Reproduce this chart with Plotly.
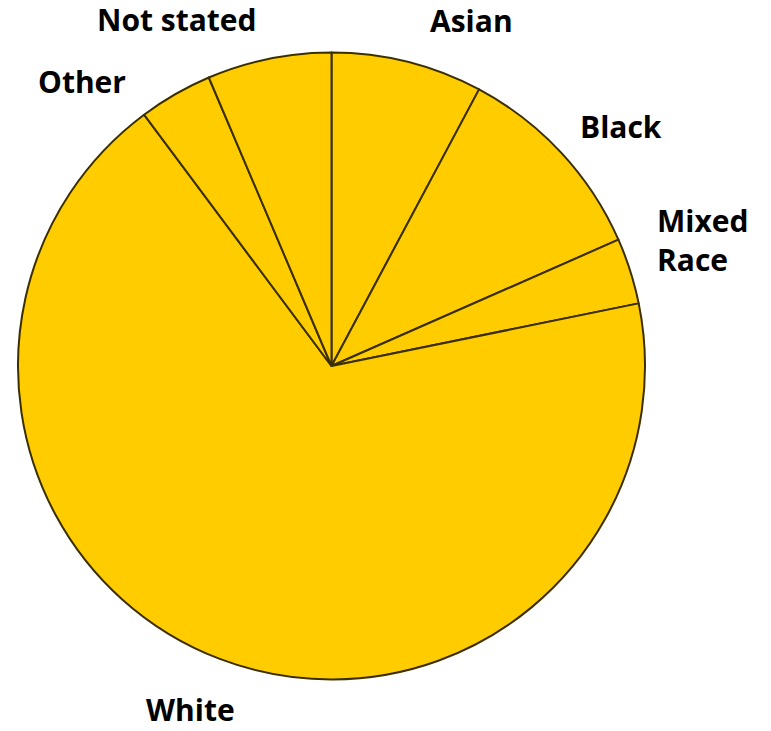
import plotly.graph_objects as go

categories = ["Asian", "Black", "Mixed Race", "White", "Other", "Not stated"]
shares = [7.8, 10.6, 3.4, 68.0, 3.8, 6.4]
label_text = ["Asian", "Black", "Mixed<br>Race", "White", "Other", "Not stated"]

W, H = 771, 731
fig = go.Figure(go.Pie(
    labels=categories,
    values=shares,
    sort=False,
    direction="clockwise",
    rotation=0,
    textinfo="none",
    hoverinfo="skip",
    showlegend=False,
    marker=dict(colors=["#FFCC00"] * len(categories),
                line=dict(color="#3b2f00", width=2)),
    domain=dict(x=[18 / W, 645 / W], y=[1 - 680 / H, 1 - 52 / H]),
))

# label placements (pixel centres)
label_pos = {
    "Not stated": (177, 19, "center"),
    "Asian": (471, 21, "center"),
    "Black": (621, 127, "center"),
    "Mixed Race": (655, 240, "left"),
    "Other": (82, 81, "center"),
    "White": (190, 709, "center"),
}
for cat, txt in zip(categories, label_text):
    x, y, al = label_pos[cat]
    fig.add_annotation(
        x=x / W, y=1 - y / H, xref="paper", yref="paper",
        text=f"<b>{txt}</b>", showarrow=False,
        xanchor="left" if al == "left" else "center", yanchor="middle",
        align=al,
        font=dict(family="Open Sans, sans-serif", size=30, color="#000000"),
    )

fig.update_layout(
    width=W, height=H,
    margin=dict(l=0, r=0, t=0, b=0),
    paper_bgcolor="white",
    plot_bgcolor="white",
)
fig.write_html("out.html")
